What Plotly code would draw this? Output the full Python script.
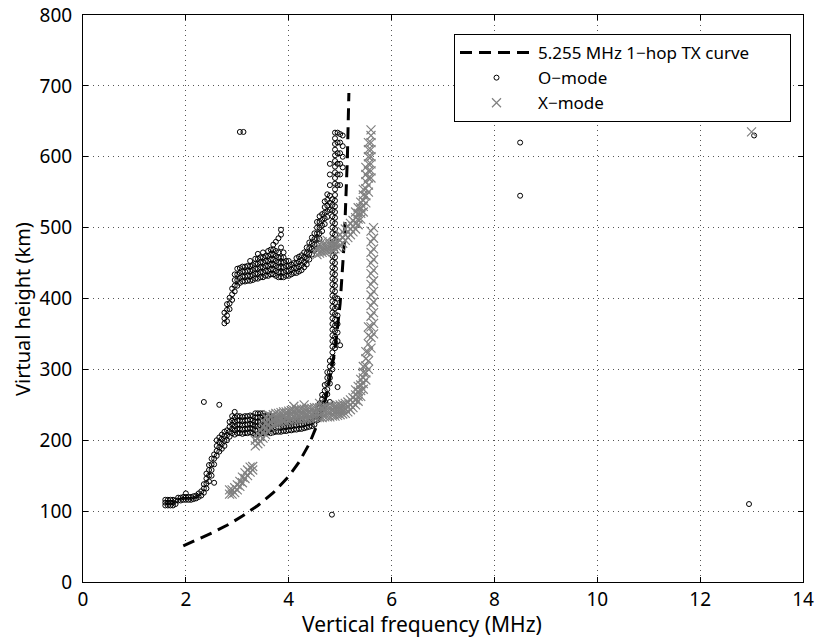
import plotly.graph_objects as go

# ---------------- data ----------------
# 1-hop transmission curve for 5.255 MHz
tx_freq = [1.95, 2.2, 2.5, 2.8, 3.1, 3.4, 3.7, 4.0, 4.2, 4.4, 4.6, 4.75, 4.9, 5.0, 5.08, 5.14, 5.17]
tx_height = [51, 59, 69, 80, 93, 108, 126, 149, 169, 195, 230, 268, 328, 393, 480, 597, 690]

# O-mode echoes: (frequency MHz, [virtual heights km])
o_lower = [
    (1.60, [108, 112, 116]), (1.65, [108, 112, 116]), (1.70, [108, 112, 116]),
    (1.75, [108, 112, 116]), (1.80, [110, 115]), (1.85, [115, 119]),
    (1.90, [115, 119]), (1.95, [116, 120]), (2.00, [116, 120, 125]),
    (2.05, [116, 120]), (2.10, [116, 120]), (2.15, [117, 121]),
    (2.20, [118, 122]), (2.25, [120, 125]), (2.30, [122, 128]),
    (2.35, [126, 132, 138, 254]), (2.40, [132, 139, 146, 153]),
    (2.45, [142, 150, 158, 165]), (2.50, [150, 158, 166, 174]),
    (2.55, [140, 166, 174, 180]), (2.60, [178, 185, 192, 200]),
    (2.65, [184, 190, 197, 204, 250]), (2.70, [188, 195, 202, 208]),
    (2.75, [192, 199, 206, 212]), (2.80, [200, 207, 214]),
    (2.85, [205, 212, 219, 226]), (2.90, [210, 216, 222, 228, 234]),
    (2.95, [208, 214, 220, 226, 232, 240]), (3.00, [210, 216, 222, 228, 234]),
    (3.05, [210, 216, 222, 228, 234]), (3.10, [209, 215, 221, 227, 233]),
    (3.15, [210, 216, 222, 228, 234]), (3.20, [210, 216, 222, 228, 234]),
    (3.25, [211, 217, 223, 229, 235]), (3.30, [210, 216, 222, 228, 234]),
    (3.35, [208, 214, 220, 226, 232, 238]), (3.40, [208, 214, 220, 226, 232, 238]),
    (3.45, [209, 215, 221, 227, 233, 238]), (3.50, [210, 216, 222, 228, 234, 238]),
    (3.55, [210, 216, 222, 228, 234]), (3.60, [211, 217, 223, 229, 235]),
    (3.65, [210, 216, 222, 228, 234]), (3.70, [211, 217, 223, 229]),
    (3.75, [212, 218, 224, 230]), (3.80, [212, 218, 224]),
    (3.85, [212, 218, 224, 230]), (3.90, [213, 219, 225]),
    (3.95, [213, 219, 225]), (4.00, [214, 220, 226]),
    (4.05, [214, 220, 226]), (4.10, [215, 221, 227]),
    (4.15, [215, 221, 227]), (4.20, [216, 222, 228]),
    (4.25, [216, 222, 228]), (4.30, [217, 223, 229]),
    (4.35, [218, 224, 230]), (4.40, [219, 225, 231]),
    (4.45, [220, 226, 232]), (4.50, [222, 228, 234]),
    (4.55, [228, 234, 240]), (4.60, [234, 240, 246, 252]),
    (4.65, [245, 252, 258, 264]), (4.70, [250, 255, 262, 270, 278]),
    (4.75, [265, 272, 280, 288, 296]), (4.80, [254, 280, 288, 296, 304, 312]),
]

o_column = [
    (4.85, [300, 308, 316, 324, 332, 340, 348, 356, 364, 372, 380, 388, 396, 404, 412,
            420, 428, 436, 444, 452, 460, 468, 476, 484, 492, 500, 508, 516, 524, 532, 540]),
    (4.90, [330, 338, 346, 354, 362, 370, 378, 386, 394, 402, 410, 418, 426, 434, 442,
            450, 458, 466, 474, 482, 490, 498, 506, 514, 522, 530, 538, 546, 554, 562,
            570, 578, 586, 594, 602, 610, 618, 626, 634]),
    (4.95, [275, 340, 352, 364, 376, 388, 400, 560, 575, 590, 605, 620, 634]),
    (5.00, [334, 560, 575, 590, 605, 620, 632]),
    (5.05, [585, 600, 615, 630]),
]

o_upper = [
    (2.75, [365, 372, 380]), (2.80, [368, 376, 384, 392]), (2.85, [385, 393, 401]),
    (2.90, [398, 406, 414]), (2.95, [410, 418, 426, 434]), (3.00, [418, 426, 434, 442]),
    (3.05, [422, 429, 436, 443]), (3.10, [424, 431, 438, 445]), (3.15, [424, 431, 438, 445]),
    (3.20, [425, 432, 439, 446]), (3.25, [425, 432, 439, 446, 453]),
    (3.30, [426, 433, 440, 447]), (3.35, [428, 435, 442, 449, 456]),
    (3.40, [428, 435, 442, 449, 456, 463]), (3.45, [430, 437, 444, 451, 458]),
    (3.50, [430, 437, 444, 451, 458, 465]), (3.55, [432, 439, 446, 453, 460]),
    (3.60, [432, 439, 446, 453, 460, 467]), (3.65, [434, 441, 448, 455, 462, 469]),
    (3.70, [434, 441, 448, 455, 462, 469, 476]), (3.75, [432, 439, 446, 453, 460, 467, 480]),
    (3.80, [430, 437, 444, 451, 458, 465, 485]), (3.85, [430, 437, 444, 451, 458, 472, 490, 497]),
    (3.90, [430, 437, 444, 451, 458, 465]), (3.95, [432, 439, 446, 453]),
    (4.00, [432, 439, 446, 453]), (4.05, [434, 441, 448]), (4.10, [436, 443, 450]),
    (4.15, [436, 443, 450, 457]), (4.20, [438, 445, 452, 459]),
    (4.25, [440, 447, 454, 461]), (4.30, [444, 451, 458, 465]),
    (4.35, [448, 456, 464, 472]), (4.40, [455, 463, 471, 479]),
    (4.45, [462, 470, 478, 486]), (4.50, [468, 476, 484, 492]),
    (4.55, [476, 484, 492, 500, 508]), (4.60, [484, 492, 500, 508, 516]),
    (4.65, [495, 503, 511, 519]), (4.70, [505, 513, 521, 529, 537]),
    (4.75, [515, 523, 531, 539, 547]), (4.80, [525, 535, 545, 560, 575, 590]),
]

o_outliers = [
    (3.05, [635]), (3.12, [635]), (4.84, [95]), (8.50, [545, 620]),
    (12.95, [110]), (13.05, [630]),
]

# X-mode echoes: (frequency MHz, [virtual heights km])
x_lower = [
    (2.85, [124, 130]), (2.90, [124, 130]), (2.95, [126, 133]), (3.00, [130, 137]),
    (3.05, [135, 142]), (3.10, [140, 148]), (3.15, [146, 154]), (3.20, [150, 158]),
    (3.25, [155, 162]), (3.30, [158, 163]),
]

x_band = [
    (3.35, [192, 200]), (3.40, [195, 203, 210]), (3.45, [198, 206, 214]),
    (3.50, [203, 211, 219, 227]), (3.55, [208, 216, 224, 232]), (3.60, [214, 222, 230, 236]),
    (3.65, [218, 226, 234]), (3.70, [220, 228, 236]), (3.75, [222, 230, 238]),
    (3.80, [224, 231, 238]), (3.85, [225, 232, 239]), (3.90, [226, 233, 240]),
    (3.95, [226, 233, 240]), (4.00, [227, 234, 241]), (4.05, [228, 235, 242]),
    (4.10, [228, 235, 242, 248]), (4.15, [229, 236, 243]), (4.20, [229, 236, 243]),
    (4.25, [230, 237, 244]), (4.30, [230, 237, 244, 250]), (4.35, [230, 237, 244]),
    (4.40, [231, 238, 245]), (4.45, [231, 238, 245]), (4.50, [232, 239, 246]),
    (4.55, [232, 239, 246]), (4.60, [232, 239, 246, 252]), (4.65, [232, 239, 246]),
    (4.70, [233, 240, 247]), (4.75, [233, 240, 247]), (4.80, [233, 240, 247]),
    (4.85, [234, 241, 248]), (4.90, [234, 241, 248]), (4.95, [235, 242, 249]),
    (5.00, [236, 243, 250]), (5.05, [237, 244, 251]), (5.10, [238, 245, 252]),
    (5.15, [240, 247, 254]), (5.20, [243, 250, 257]), (5.25, [246, 253, 260]),
    (5.30, [250, 257, 264, 271]), (5.35, [255, 262, 269, 276]),
    (5.40, [262, 270, 278, 286]), (5.45, [272, 280, 288, 296, 304]),
    (5.50, [285, 295, 305, 315, 325]), (5.55, [300, 312, 324, 336, 348, 360]),
    (5.60, [330, 345, 360, 375, 390, 405, 420, 435, 450, 465, 480, 495]),
    (5.65, [350, 365, 380, 395, 410, 425, 440, 455, 470, 485, 500]),
]

x_upper = [
    (4.55, [462, 470]), (4.60, [464, 472]), (4.65, [465, 473, 480]), (4.70, [466, 474]),
    (4.75, [467, 475, 482]), (4.80, [468, 476]), (4.85, [469, 477]), (4.90, [470, 478]),
    (4.95, [472, 480]), (5.00, [474, 482, 490]), (5.05, [478, 486, 494]),
    (5.10, [482, 490, 498]), (5.15, [486, 494, 502]), (5.20, [490, 498, 506]),
    (5.25, [494, 502, 510]), (5.30, [498, 506, 514, 522]), (5.35, [504, 512, 520, 528]),
    (5.40, [512, 520, 528, 536]), (5.45, [522, 530, 538, 546, 554]),
    (5.50, [535, 545, 555, 565, 575, 585]),
    (5.55, [550, 560, 570, 580, 590, 600, 610, 620]),
    (5.60, [570, 580, 590, 600, 610, 620, 630, 638]),
]

x_outliers = [(13.0, [635])]

x_ticks = [0, 2, 4, 6, 8, 10, 12, 14]
y_ticks = [0, 100, 200, 300, 400, 500, 600, 700, 800]


def flatten(*groups):
    fs, hs = [], []
    for g in groups:
        for f, heights in g:
            for h in heights:
                fs.append(f)
                hs.append(h)
    return fs, hs


o_f, o_h = flatten(o_lower, o_column, o_upper, o_outliers)
x_f, x_h = flatten(x_lower, x_band, x_upper, x_outliers)

FONT = "Noto Sans"
PAD = "\u00a0" * 8

fig = go.Figure()
fig.add_trace(go.Scatter(
    x=tx_freq, y=tx_height, mode="lines", name="5.255 MHz 1\u2212hop TX curve" + PAD,
    line=dict(color="black", width=3, dash="12px,7px"),
))
fig.add_trace(go.Scatter(
    x=o_f, y=o_h, mode="markers", name="O\u2212mode",
    marker=dict(symbol="circle-open", size=5, color="black", line=dict(width=1, color="black")),
))
fig.add_trace(go.Scatter(
    x=x_f, y=x_h, mode="markers", name="X\u2212mode",
    marker=dict(symbol="x-thin-open", size=9, color="#808080", line=dict(width=1.2, color="#808080")),
))

axis_common = dict(
    showline=True, linecolor="black", linewidth=1, mirror="ticks",
    ticks="inside", ticklen=5, tickcolor="black", tickwidth=1,
    showgrid=True, gridcolor="#555555", gridwidth=1, griddash="1px,4px",
    zeroline=False, tickfont=dict(family=FONT, size=19, color="black"),
    automargin=False,
)

fig.update_xaxes(
    range=[0, 14], tickvals=x_ticks, ticktext=[str(v) for v in x_ticks],
    ticklabelstandoff=0, **axis_common,
)
fig.update_yaxes(
    range=[0, 800], tickvals=y_ticks, ticktext=[str(v) for v in y_ticks],
    ticklabelstandoff=6, **axis_common,
)

# axis titles (placed as in the reference)
fig.add_annotation(
    text="Vertical frequency (MHz)", xref="paper", yref="paper",
    x=(422 - 83) / 720, y=(582 - 624) / 567, xanchor="center", yanchor="middle",
    showarrow=False, font=dict(family=FONT, size=21, color="black"),
)
fig.add_annotation(
    text="Virtual height (km)", xref="paper", yref="paper",
    x=(22 - 83) / 720, y=(582 - 309) / 567, xanchor="center", yanchor="middle",
    textangle=-90, showarrow=False, font=dict(family=FONT, size=20, color="black"),
)

fig.update_layout(
    width=816, height=642,
    margin=dict(l=83, r=13, t=15, b=60),
    paper_bgcolor="white", plot_bgcolor="white",
    font=dict(family=FONT, size=16, color="black"),
    showlegend=True,
    legend=dict(
        x=(454 - 83) / 720, y=(582 - 34) / 567, xanchor="left", yanchor="top",
        bgcolor="white", bordercolor="black", borderwidth=1,
        font=dict(family=FONT, size=17, color="black"),
        itemwidth=73, tracegroupgap=0,
    ),
)

fig.write_html("out.html", config={"displayModeBar": False},
               post_script="document.body.style.margin='0';")
